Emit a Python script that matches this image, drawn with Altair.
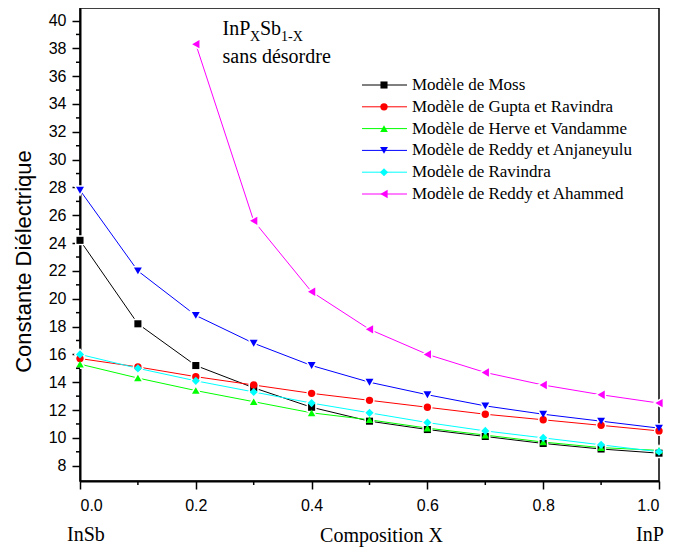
import altair as alt
import pandas as pd

# ---------------- data ----------------
X = [0.0, 0.1, 0.2, 0.3, 0.4, 0.5, 0.6, 0.7, 0.8, 0.9, 1.0]

SERIES = [
    "Modèle de Moss",
    "Modèle de Gupta et Ravindra",
    "Modèle de Herve et Vandamme",
    "Modèle de Reddy et Anjaneyulu",
    "Modèle de Ravindra",
    "Modèle de Reddy et Ahammed",
]

MOSS = [24.2, 18.2, 15.2, 13.6, 12.2, 11.2, 10.6, 10.1, 9.6, 9.2, 8.9]
GUPTA = [15.7, 15.1, 14.4, 13.8, 13.2, 12.7, 12.2, 11.7, 11.3, 10.9, 10.5]
HERVE = [15.3, 14.3, 13.4, 12.6, 11.8, 11.3, 10.7, 10.2, 9.7, 9.3, 9.1]
REDDY_ANJ = [27.8, 22.0, 18.8, 16.8, 15.2, 14.0, 13.1, 12.3, 11.7, 11.2, 10.7]
RAVINDRA = [16.0, 15.0, 14.1, 13.3, 12.5, 11.8, 11.1, 10.5, 10.0, 9.5, 9.0]
REDDY_AHA = [None, None, 38.3, 25.6, 20.5, 17.8, 16.0, 14.7, 13.8, 13.1, 12.5]

VALUES = [MOSS, GUPTA, HERVE, REDDY_ANJ, RAVINDRA, REDDY_AHA]

X_MAJOR = [0.0, 0.2, 0.4, 0.6, 0.8, 1.0]
X_MINOR = [0.1, 0.3, 0.5, 0.7, 0.9]
Y_MAJOR = list(range(8, 41, 2))
Y_MINOR = list(range(9, 40, 2))

END_LABELS = ["InSb", "InP"]

# ---------------- styles ----------------
COLORS = ["#000000", "#FF0000", "#00FF00", "#0000FF", "#00FFFF", "#FF00FF"]
SHAPES = ["square", "circle", "triangle-up", "triangle-down", "diamond", "triangle-left"]
SIZES = [50, 70, 120, 120, 110, 120]

SERIF = "Liberation Serif"
SANS = "Liberation Sans"

W, H = 579, 473

rows = []
for name, vals in zip(SERIES, VALUES):
    for xv, yv in zip(X, vals):
        if yv is not None:
            rows.append({"series": name, "x": xv, "y": yv})
df = pd.DataFrame(rows)

xminor_df = pd.DataFrame({"x": X_MINOR})
yminor_df = pd.DataFrame({"y": Y_MINOR})
leg_df = pd.DataFrame({"series": SERIES})
ends_df = pd.DataFrame({"x": [X[0], X[-1]], "label": END_LABELS})

color = alt.Color("series:N", scale=alt.Scale(domain=SERIES, range=COLORS), legend=None)
shape = alt.Shape("series:N", scale=alt.Scale(domain=SERIES, range=SHAPES), legend=None)
size = alt.Size("series:O", scale=alt.Scale(domain=SERIES, range=SIZES), legend=None)

xs = alt.X(
    "x:Q",
    scale=alt.Scale(domain=[0, 1], nice=False, zero=False),
    axis=alt.Axis(
        values=X_MAJOR, format=".1f", title="Composition X",
        titleFont=SERIF, titleFontSize=20, titleFontWeight="normal", titleColor="black",
        titleX=301, titleY=54, titleAlign="center", titleBaseline="middle",
        labelFont=SANS, labelFontSize=16, labelColor="black", labelPadding=8,
        tickSize=8, tickWidth=1.5, tickColor="black",
        domainColor="black", domainWidth=2, grid=False,
    ),
)
ys = alt.Y(
    "y:Q",
    scale=alt.Scale(domain=[6.9, 40.9], nice=False, zero=False),
    axis=alt.Axis(
        values=Y_MAJOR, title="Constante Diélectrique",
        titleFont=SANS, titleFontSize=22, titleFontWeight="normal", titleColor="black",
        titleX=-57, titleY=253, titleAngle=270, titleAlign="center", titleBaseline="middle",
        labelFont=SANS, labelFontSize=16, labelColor="black", labelPadding=6,
        tickSize=8, tickWidth=1.5, tickColor="black",
        domainColor="black", domainWidth=2, grid=False,
    ),
)

lines = alt.Chart(df).mark_line(strokeWidth=1).encode(
    x=xs, y=ys, color=color, order=alt.Order("x:Q")
)
halos = alt.Chart(df).mark_point(
    filled=True, color="white", stroke="white", strokeWidth=3, opacity=1
).encode(x=xs, y=ys, shape=shape, size=size)
points = alt.Chart(df).mark_point(filled=True, opacity=1, strokeWidth=0).encode(
    x=xs, y=ys, color=color, shape=shape, size=size
)

xminor = alt.Chart(xminor_df).mark_rule(color="black", strokeWidth=1.5).encode(
    x=xs, y=alt.value(H), y2=alt.value(H + 4)
)
yminor = alt.Chart(yminor_df).mark_rule(color="black", strokeWidth=1.5).encode(
    y=ys, x=alt.value(-4), x2=alt.value(0)
)

insb = alt.Chart(ends_df.iloc[[0]]).mark_text(
    font=SERIF, fontSize=20, color="black", align="left", baseline="middle", dx=-13
).encode(x=xs, y=alt.value(H + 54), text="label:N")
inp = alt.Chart(ends_df.iloc[[1]]).mark_text(
    font=SERIF, fontSize=20, color="black", align="center", baseline="middle", dx=-9
).encode(x=xs, y=alt.value(H + 54), text="label:N")

# annotation  InP_X Sb_1-X / sans désordre
def txt(t, x, y, fs):
    return alt.Chart(pd.DataFrame({"a": [0]})).mark_text(
        text=t, font=SERIF, fontSize=fs, color="black", align="left", baseline="alphabetic"
    ).encode(x=alt.value(x), y=alt.value(y))

annot = alt.layer(
    txt("InP", 142.5, 27, 20),
    txt("X", 170, 33, 14),
    txt("Sb", 180, 27, 20),
    txt("1-X", 201, 33, 14),
    txt("sans désordre", 142.5, 55, 20),
)

data_layer = alt.layer(lines, halos, points, xminor, yminor, insb, inp, annot)

ly = alt.Y(
    "series:N", sort=SERIES,
    scale=alt.Scale(type="point", domain=SERIES, range=[77, 186], padding=0),
    axis=None,
)
leg_rules = alt.Chart(leg_df).mark_rule(strokeWidth=1).encode(
    x=alt.value(282), x2=alt.value(327), y=ly, color=color
)
leg_points = alt.Chart(leg_df).mark_point(filled=True, opacity=1, strokeWidth=0).encode(
    x=alt.value(304), y=ly, color=color, shape=shape, size=size
)
leg_text = alt.Chart(leg_df).mark_text(
    font=SERIF, fontSize=17, color="black", align="left", baseline="middle"
).encode(x=alt.value(332), y=ly, text="series:N")
legend_layer = alt.layer(leg_rules, leg_points, leg_text)

chart = (
    alt.layer(data_layer, legend_layer)
    .resolve_scale(y="independent")
    .properties(
        width=W, height=H,
        autosize=alt.AutoSizeParams(type="none"),
        padding={"left": 72, "top": 0, "right": 6, "bottom": 68},
        background="white",
    )
    .configure_view(stroke="black", strokeWidth=1.5)
)

chart.save("out.html", embed_options={"renderer": "svg", "actions": False})
